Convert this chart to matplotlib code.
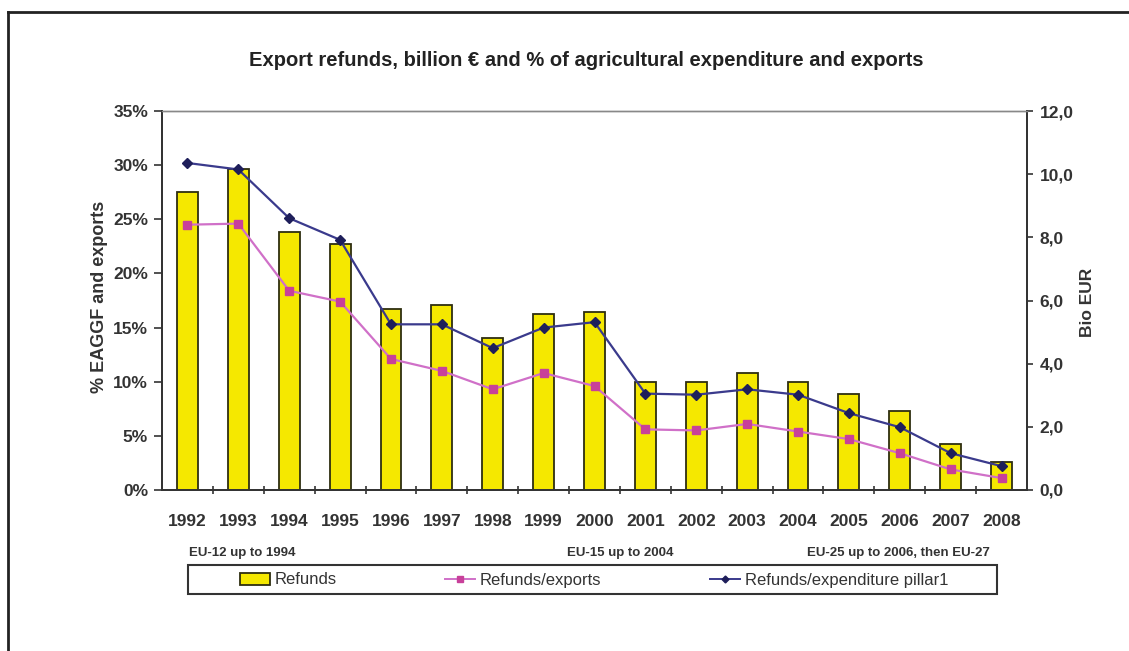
import matplotlib
matplotlib.use("Agg")
import matplotlib.pyplot as plt
from matplotlib.patches import Rectangle, Patch
from matplotlib.lines import Line2D
from matplotlib.ticker import FuncFormatter, FixedLocator

plt.rcParams['font.family'] = ['Liberation Sans Narrow', 'Liberation Sans', 'DejaVu Sans']

years = ['1992', '1993', '1994', '1995', '1996', '1997', '1998', '1999', '2000',
         '2001', '2002', '2003', '2004', '2005', '2006', '2007', '2008']
refunds_bn = [9.44, 10.15, 8.17, 7.80, 5.72, 5.85, 4.81, 5.57, 5.64,
              3.43, 3.43, 3.69, 3.43, 3.04, 2.50, 1.46, 0.89]
refunds_exports_pct = [24.5, 24.6, 18.4, 17.4, 12.1, 11.0, 9.3, 10.8, 9.6,
                       5.6, 5.5, 6.1, 5.4, 4.7, 3.4, 1.9, 1.1]
refunds_pillar1_pct = [30.2, 29.6, 25.1, 23.1, 15.3, 15.3, 13.1, 15.0, 15.5,
                       8.9, 8.8, 9.3, 8.8, 7.1, 5.8, 3.4, 2.2]

W, H = 1129, 651
fig = plt.figure(figsize=(W / 100, H / 100), dpi=100)
fig.patch.set_facecolor('white')

left, right, top, bottom = 162, 1027, 111, 490
ax = fig.add_axes([left / W, 1 - bottom / H, (right - left) / W, (bottom - top) / H])
ax2 = ax.twinx()
# bars live on the secondary (EUR) axis, drawn underneath the percentage lines
ax2.set_zorder(ax.get_zorder() - 1)
ax.patch.set_visible(False)
ax2.patch.set_facecolor('white')

x = list(range(len(years)))
ax2.bar(x, refunds_bn, width=0.41, color='#F5E800', edgecolor='#2E2E10', linewidth=1.3)
ax.plot(x, refunds_exports_pct, color='#D070C8', linewidth=1.6,
        marker='s', markersize=5.5, markerfacecolor='#C8409A', markeredgecolor='#C8409A')
ax.plot(x, refunds_pillar1_pct, color='#3A3A8C', linewidth=1.6,
        marker='D', markersize=5, markerfacecolor='#1E1E5A', markeredgecolor='#1E1E5A')

ax.set_xlim(-0.5, len(years) - 0.5)
ax.set_ylim(0, 35)
ax2.set_ylim(0, 12)

ax.set_yticks([0, 5, 10, 15, 20, 25, 30, 35])
ax.yaxis.set_major_formatter(FuncFormatter(lambda v, p: f"{v:.0f}%"))
ax2.set_yticks([0, 2, 4, 6, 8, 10, 12])
ax2.yaxis.set_major_formatter(FuncFormatter(lambda v, p: f"{v:.1f}".replace('.', ',')))

ax.set_xticks(x)
ax.set_xticklabels(years)
ax.xaxis.set_minor_locator(FixedLocator([i + 0.5 for i in range(len(years) - 1)]))

tick_font = dict(fontsize=12.5, fontweight='bold', color='#333333')
for lab in ax.get_xticklabels():
    lab.set(**tick_font)
for lab in ax.get_yticklabels():
    lab.set(**tick_font)
for lab in ax2.get_yticklabels():
    lab.set(**tick_font)

ax.tick_params(axis='x', which='major', length=0, pad=17)
ax.tick_params(axis='x', which='minor', length=6, direction='inout', color='#333333', width=1.2)
ax.tick_params(axis='y', length=6, direction='out', color='#333333', width=1.2, pad=4)
ax2.tick_params(axis='y', length=4, direction='out', color='#333333', width=1.2, pad=5)

for a in (ax, ax2):
    a.spines['top'].set_color('#888888')
    a.spines['top'].set_linewidth(1.0)
    for s in ('left', 'right', 'bottom'):
        a.spines[s].set_color('#333333')
        a.spines[s].set_linewidth(1.3)

fig.text(586 / W, 1 - 60 / H, 'Export refunds, billion \u20ac and % of agricultural expenditure and exports',
         ha='center', va='center', fontsize=14.5, fontweight='bold', color='#222222')
fig.text(100 / W, 1 - 297 / H, '% EAGGF and exports', rotation=90, ha='center', va='center',
         fontsize=13, fontweight='bold', color='#333333')
fig.text(1088 / W, 1 - 302 / H, 'Bio EUR', rotation=90, ha='center', va='center',
         fontsize=12.5, fontweight='bold', color='#333333')

note_font = dict(fontsize=9.5, fontweight='bold', color='#333333', va='center')
fig.text(189 / W, 1 - 553 / H, 'EU-12 up to 1994', ha='left', **note_font)
fig.text(567 / W, 1 - 553 / H, 'EU-15 up to 2004', ha='left', **note_font)
fig.text(807 / W, 1 - 553 / H, 'EU-25 up to 2006, then EU-27', ha='left', **note_font)

# legend box
fig.add_artist(Rectangle((188 / W, 1 - 594 / H), (997 - 188) / W, (594 - 565) / H,
                         transform=fig.transFigure, facecolor='white',
                         edgecolor='#333333', linewidth=1.5))
handles = [
    Patch(facecolor='#F5E800', edgecolor='#2E2E10', linewidth=1.3, label='Refunds'),
    Line2D([], [], color='#D070C8', linewidth=1.4, marker='s', markersize=4,
           markerfacecolor='#C8409A', markeredgecolor='#C8409A', label='Refunds/exports'),
    Line2D([], [], color='#3A3A8C', linewidth=1.4, marker='D', markersize=3.5,
           markerfacecolor='#1E1E5A', markeredgecolor='#1E1E5A', label='Refunds/expenditure pillar1'),
]
leg = fig.legend(handles=handles, loc='center', bbox_to_anchor=(594 / W, 1 - 580 / H),
                 ncol=3, frameon=False, fontsize=12, handlelength=1.8, handleheight=0.75,
                 handletextpad=0.3, columnspacing=6.5)
for t in leg.get_texts():
    t.set_color('#333333')

# outer frame
fig.add_artist(Line2D([8 / W, 1.0], [1 - 12 / H, 1 - 12 / H], transform=fig.transFigure,
                      color='#222222', linewidth=2))
fig.add_artist(Line2D([8 / W, 8 / W], [0, 1 - 12 / H], transform=fig.transFigure,
                      color='#222222', linewidth=2))

fig.savefig('out.png', dpi=100)
